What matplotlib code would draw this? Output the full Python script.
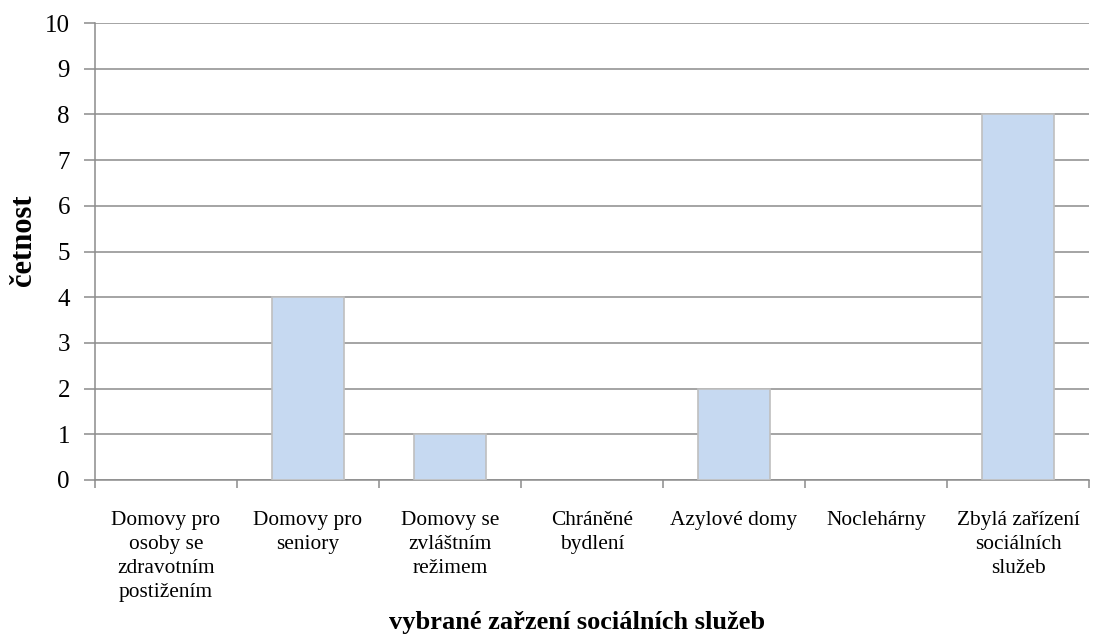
import matplotlib
matplotlib.use("Agg")
import matplotlib.pyplot as plt
import numpy as np

categories = [
    "Domovy pro\nosoby se\nzdravotním\npostižením",
    "Domovy pro\nseniory",
    "Domovy se\nzvláštním\nrežimem",
    "Chráněné\nbydlení",
    "Azylové domy",
    "Noclehárny",
    "Zbylá zařízení\nsociálních\nslužeb",
]
values = [0, 4, 1, 0, 2, 0, 8]
y_ticks = list(range(0, 11))

plt.rcParams['font.family'] = ['Liberation Serif', 'DejaVu Serif']

fig = plt.figure(figsize=(11, 6.35), dpi=100)
ax = fig.add_axes([95/1100, 1 - 480/635, (1089 - 95)/1100, (480 - 23)/635])

x = np.arange(len(categories))
edges = ["#BFBFBF" if v > 0 else "none" for v in values]
ax.bar(x, values, width=0.51, color="#C6D9F1", edgecolor=edges, linewidth=1.2, zorder=3)

ax.set_xlim(-0.5, len(categories) - 0.5)
ax.set_ylim(0, 10)
ax.set_yticks(y_ticks)
ax.set_yticklabels([str(t) for t in y_ticks], fontsize=18)
ax.yaxis.grid(True, color="#8C8C8C", linewidth=1.1, zorder=0)
ax.set_axisbelow(True)

ax.set_xticks(x)
ax.set_xticklabels(categories, fontsize=15.4, linespacing=1.36, va="top")
ax.set_xticks(np.arange(-0.5, len(categories)), minor=True)
ax.tick_params(axis="x", which="major", length=0, pad=22)
ax.tick_params(axis="x", which="minor", length=6, color="#8C8C8C", width=1.1, direction="out")
ax.tick_params(axis="y", length=8, color="#8C8C8C", width=1.1, pad=10, direction="out")

for s in ["top", "right"]:
    ax.spines[s].set_visible(False)
for s in ["left", "bottom"]:
    ax.spines[s].set_color("#8C8C8C")
    ax.spines[s].set_linewidth(1.1)

fig.text(24/1100, 1 - 240/635, "četnost", fontsize=22, fontweight="bold",
         rotation=90, ha="center", va="center")
fig.text(577/1100, 1 - 622/635, "vybrané zařzení sociálních služeb", fontsize=19,
         fontweight="bold", ha="center", va="center")

fig.savefig("out.png", dpi=100)
